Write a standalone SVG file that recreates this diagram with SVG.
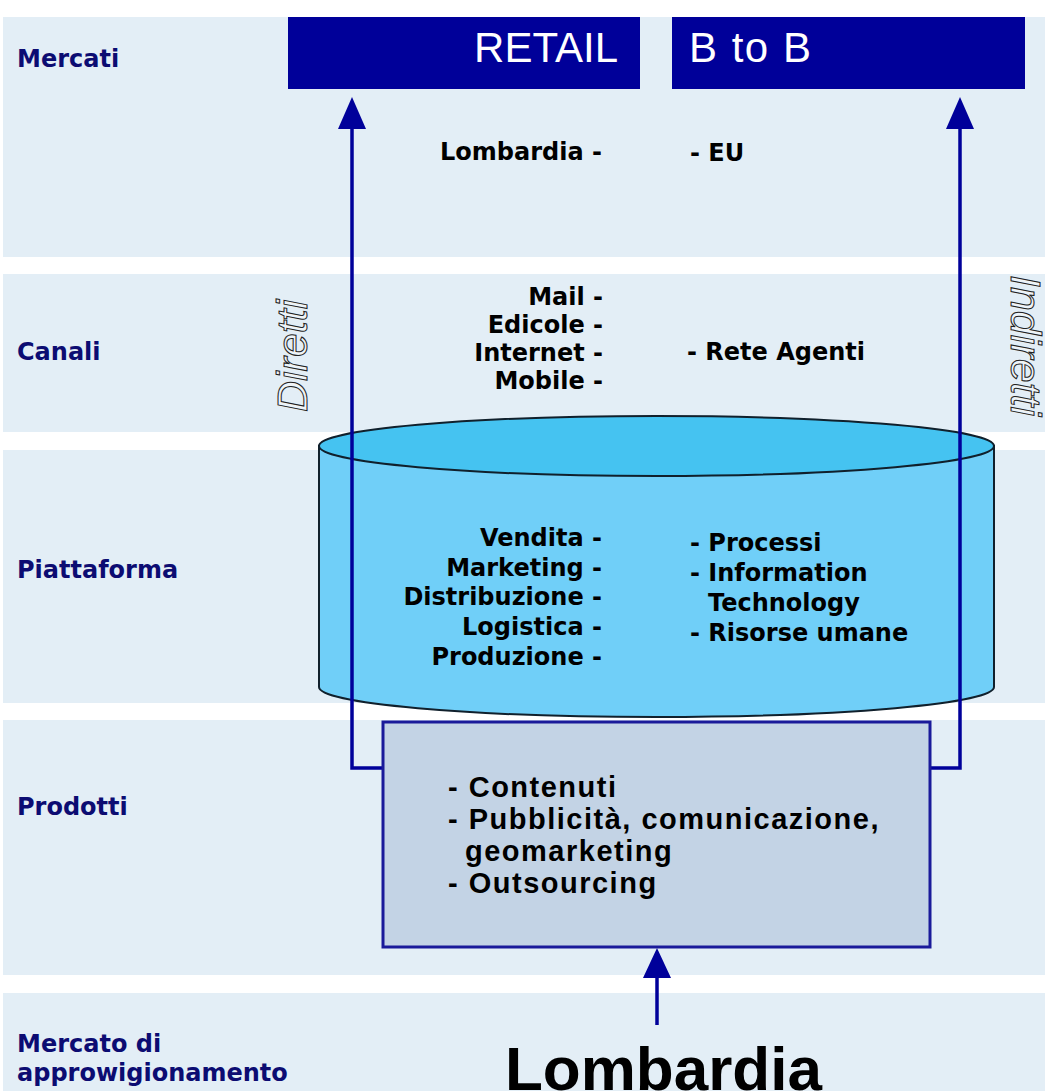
<svg xmlns="http://www.w3.org/2000/svg" width="1045" height="1091" viewBox="0 0 1045 1091">
<style>
.band{fill:#e3eef6}
.lbl{font-family:"DejaVu Sans",Verdana,sans-serif;font-weight:bold;font-size:24px;fill:#0c0c72}
.t{font-family:"DejaVu Sans",Verdana,sans-serif;font-weight:bold;font-size:24px;fill:#000}
.p{font-family:"Liberation Sans",Arial,sans-serif;font-weight:bold;font-size:29px;letter-spacing:1.5px;fill:#000}
.hdr{font-family:"Liberation Sans",Arial,sans-serif;font-size:42px;fill:#fff}
.rot{font-family:"Liberation Sans",Arial,sans-serif;font-style:italic;font-size:43px;fill:#eef4f8;stroke:#222;stroke-width:1}
.conn{fill:none;stroke:#00009a;stroke-width:3.5}
.head{fill:#00009a}
</style>
<rect width="1045" height="1091" fill="#ffffff"/>
<g id="bands">
<rect class="band" x="3" y="17" width="1042" height="240"/>
<rect class="band" x="3" y="274" width="1042" height="158"/>
<rect class="band" x="3" y="450" width="1042" height="253"/>
<rect class="band" x="3" y="720" width="1042" height="255"/>
<rect class="band" x="3" y="993" width="1042" height="98"/>
</g>
<g id="labels">
<text class="lbl" x="17" y="67">Mercati</text>
<text class="lbl" x="17" y="360">Canali</text>
<text class="lbl" x="17" y="578">Piattaforma</text>
<text class="lbl" x="17" y="815">Prodotti</text>
<text class="lbl" x="17" y="1052">Mercato di</text>
<text class="lbl" x="17" y="1081" font-size="23.5">approwigionamento</text>
</g>
<g id="retail">
<rect x="288" y="17" width="352" height="72" fill="#000099"/>
<text class="hdr" x="618" y="62" text-anchor="end">RETAIL</text>
</g>
<g id="btob">
<rect x="672" y="17" width="353" height="72" fill="#000099"/>
<text class="hdr" x="689" y="62" letter-spacing="1.5">B to B</text>
</g>
<g id="mercati-text">
<text class="t" x="602" y="160" text-anchor="end">Lombardia -</text>
<text class="t" x="690" y="161">- EU</text>
</g>
<g id="canali-text">
<text class="t" text-anchor="end"><tspan x="603" y="305">Mail -</tspan><tspan x="603" y="333">Edicole -</tspan><tspan x="603" y="361">Internet -</tspan><tspan x="603" y="389">Mobile -</tspan></text>
<text class="t" x="687" y="360">- Rete Agenti</text>
</g>
<g id="piattaforma">
<path d="M319,446 L319,687 A337.5,30 0 0 0 994,687 L994,446 Z" fill="#70cff8" stroke="#10202c" stroke-width="2"/>
<ellipse cx="656.5" cy="446" rx="337.5" ry="30" fill="#45c3f1" stroke="#10202c" stroke-width="2"/>
<text class="t" text-anchor="end"><tspan x="602" y="546">Vendita -</tspan><tspan x="602" y="576">Marketing -</tspan><tspan x="602" y="605">Distribuzione -</tspan><tspan x="602" y="635">Logistica -</tspan><tspan x="602" y="665">Produzione -</tspan></text>
<text class="t"><tspan x="690" y="551">- Processi</tspan><tspan x="690" y="581">- Information</tspan><tspan x="708" y="611">Technology</tspan><tspan x="690" y="641">- Risorse umane</tspan></text>
</g>
<g id="connectors">
<path class="conn" d="M352,126 L352,768 L383,768"/>
<path class="conn" d="M960,126 L960,768 L930,768"/>
<path class="conn" d="M657,1025 L657,975"/>
<polygon class="head" points="352,97 366,129 338,129"/>
<polygon class="head" points="960,97 974,129 946,129"/>
<polygon class="head" points="657,948 671,978 643,978"/>
</g>
<g id="prodotti">
<rect x="383" y="722" width="547" height="225" fill="#c3d3e5" stroke="#1a1a9a" stroke-width="3"/>
<text class="p"><tspan x="448" y="797">- Contenuti</tspan><tspan x="448" y="829">- Pubblicità, comunicazione,</tspan><tspan x="465" y="861">geomarketing</tspan><tspan x="448" y="893">- Outsourcing</tspan></text>
</g>
<g id="diretti">
<text class="rot" transform="translate(307,412) rotate(-90)">Diretti</text>
</g>
<g id="indiretti">
<text class="rot" transform="translate(1011,275) rotate(90)">Indiretti</text>
</g>
<g id="approvvigionamento">
<text x="505" y="1090" font-family="Liberation Sans, Arial, sans-serif" font-weight="bold" font-size="62" fill="#000">Lombardia</text>
</g>
</svg>
